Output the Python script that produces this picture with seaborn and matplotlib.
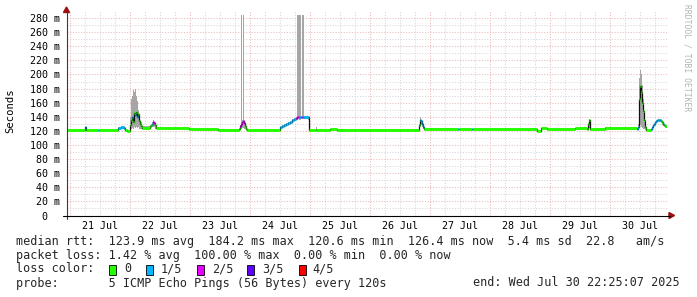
import matplotlib
matplotlib.use("Agg")
import matplotlib.pyplot as plt
import seaborn as sns
import pandas as pd
from matplotlib.lines import Line2D
from matplotlib.patches import Polygon, Rectangle

# ---------------- data (hours since 21 Jul 2025 00:00) ----------------
START_H = -1.5814   # Wed Jul 20 22:25:07
END_H = 238.4186    # Wed Jul 30 22:25:07

T_HOURS = [-1.6, 6.0, 6.4, 11.2, 11.6, 19.2, 20.4, 21.6, 22.0, 22.8,
           24.0, 24.4, 24.8, 25.2, 25.6, 26.0, 26.4, 26.8, 27.2, 27.6,
           28.0, 28.4, 28.8, 32.0, 32.4, 32.8, 33.2, 33.6, 34.0, 34.4,
           47.6, 59.2, 67.6, 68.0, 68.4, 68.8, 69.2, 69.6, 70.0, 70.4,
           70.8, 84.0, 84.8, 85.6, 86.4, 87.2, 88.0, 88.8, 89.6, 90.4,
           90.8, 91.2, 91.6, 92.0, 92.4, 92.8, 93.2, 93.6, 95.2, 95.6,
           98.4, 98.8, 104.0, 106.8, 139.6, 140.0, 140.4, 140.8, 141.2, 141.6,
           155.2, 155.6, 160.8, 161.2, 186.8, 188.4, 190.8, 202.0, 206.8, 207.2,
           207.6, 208.0, 214.0, 226.8, 227.2, 227.6, 228.0, 228.4, 228.8, 229.2,
           229.6, 230.0, 230.4, 232.4, 232.8, 233.2, 233.6, 234.0, 234.4, 234.8,
           235.2, 235.6, 236.0, 236.4, 236.8, 237.2, 237.6, 238.0]

MEDIAN_MS = [121.0, 125.0, 121.0, 121.0, 121.0, 124.5, 125.5, 124.5, 121.5, 120.5,
             128, 135, 140, 133, 145, 142, 147, 140, 144, 134,
             130, 127, 124, 127, 128, 130, 133, 131, 128, 123.8,
             122.7, 121.0, 123, 127, 130, 133, 134, 131, 127, 123,
             121, 125, 127, 129, 130, 131, 133, 136, 137, 138,
             139, 140, 139, 139, 140, 140, 140, 140, 139, 121,
             121, 121, 122, 121, 128, 135, 134, 130, 125, 123.3,
             122.7, 122.7, 122.7, 122.7, 120.5, 123.5, 122.7, 123.5, 122.7, 130,
             136, 122.7, 124.5, 123, 126, 165, 184, 175, 160, 148,
             135, 125, 120.6, 122, 125, 128, 130, 132, 134, 135,
             136, 135, 135, 134, 132, 130, 128, 126.4]

LOSS_IDX = [0, 1, 0, 1, 0, 1, 1, 1, 0, 0,
            0, 0, 1, 0, 0, 1, 0, 1, 0, 0,
            0, 0, 0, 0, 0, 1, 2, 2, 0, 0,
            0, 0, 0, 2, 2, 2, 2, 2, 0, 0,
            0, 1, 1, 1, 1, 1, 1, 1, 1, 2,
            2, 2, 1, 1, 1, 2, 1, 1, 1, 0,
            0, 0, 0, 0, 0, 1, 1, 1, 1, 0,
            1, 0, 1, 0, 0, 0, 0, 0, 0, 0,
            0, 0, 0, 1, 1, 0, 0, 0, 0, 0,
            0, 0, 0, 1, 1, 1, 1, 1, 1, 1,
            1, 1, 1, 0, 0, 1, 0, 0]

SMOKE_LO = [120.6, 121.0, 120.6, 120.6, 120.6, 121.5, 122.0, 121.5, 121.0, 120.0,
            122, 123, 124, 123, 125, 124, 126, 124, 125, 123,
            122, 122, 122, 123, 124, 125, 126, 125, 123, 123.2,
            122.2, 120.6, 121, 122, 123, 124, 124, 123, 122, 121,
            120.6, 123, 125, 127, 128, 129, 131, 133, 134, 135,
            136, 137, 136, 136, 137, 137, 137, 137, 136, 120.6,
            120.6, 120.6, 121.5, 120.6, 121, 126, 128, 126, 123, 122.6,
            122.2, 122.2, 122.2, 122.2, 120.0, 122.8, 122.2, 122.8, 122.2, 123,
            124, 122.2, 123.8, 122, 122, 125, 128, 126, 124, 123,
            122, 121, 120.2, 121, 123, 126, 128, 130, 132, 133,
            134, 133, 132, 131, 129, 127, 125, 124]

SMOKE_HI = [121.6, 126.0, 121.6, 121.6, 121.6, 126.0, 127.0, 126.0, 122.5, 121.5,
            140, 165, 170, 178, 175, 179, 170, 162, 150, 142,
            136, 132, 127, 128, 130, 133, 135, 133, 130, 124.4,
            123.2, 121.6, 124, 129, 284, 135, 284, 133, 129, 124,
            121.6, 126, 128, 130, 131, 132, 134, 137, 138, 139,
            284, 284, 284, 284, 141, 284, 284, 141, 140, 121.6,
            125, 121.6, 122.8, 121.6, 130, 139, 136, 132, 126, 124,
            123.2, 123.2, 123.2, 123.2, 121.5, 124.5, 123.2, 124.2, 123.2, 131,
            137, 123.2, 125.2, 124, 130, 195, 207, 200, 185, 165,
            148, 130, 121.5, 123, 126, 129, 131, 133, 135, 136,
            137, 137, 137, 136, 134, 132, 130, 128]

assert len(T_HOURS) == len(MEDIAN_MS) == len(LOSS_IDX) == len(SMOKE_LO) == len(SMOKE_HI)

LOSS_LABELS = ["0", "1/5", "2/5", "3/5", "4/5"]
LOSS_COLORS = ["#26ff00", "#00b8ff", "#e600ff", "#5e00ff", "#ff0000"]

DAY_LABELS = ["21 Jul", "22 Jul", "23 Jul", "24 Jul", "25 Jul",
              "26 Jul", "27 Jul", "28 Jul", "29 Jul", "30 Jul"]
Y_TICKS = list(range(0, 281, 20))

STATS_RTT = "median rtt:  123.9 ms avg  184.2 ms max  120.6 ms min  126.4 ms now  5.4 ms sd  22.8   am/s"
STATS_LOSS = "packet loss: 1.42 % avg  100.00 % max  0.00 % min  0.00 % now"
PROBE = "probe:       5 ICMP Echo Pings (56 Bytes) every 120s"
END_TXT = "end: Wed Jul 30 22:25:07 2025"

# ---------------- figure ----------------
sns.set_style("white")
plt.rcParams["font.family"] = ["DejaVu Sans Mono", "DejaVu Sans"]

W, H = 697, 297
fig = plt.figure(figsize=(W / 100, H / 100), dpi=100)
fig.patch.set_facecolor("white")


def fx(px):
    return px / W


def fy(py):
    return 1 - py / H


X0, X1 = 66.5, 666.5
Y0, Y1 = 215.5, 11.0
YMAX = 290
ax = fig.add_axes([fx(X0), fy(Y0), (X1 - X0) / W, (Y0 - Y1) / H])
ax.set_xlim(START_H, END_H)
ax.set_ylim(0, YMAX)
for s in ax.spines.values():
    s.set_visible(False)
ax.set_facecolor("white")

# grid
dot = (0, (1, 1.6))
MAJOR_C, MINOR_C = "#e9b8b8", "#d6d6d6"
for h in range(0, 240, 6):
    major = h % 24 == 0
    ax.axvline(h, color=MAJOR_C if major else MINOR_C, lw=0.75, ls=dot, zorder=0)
for v in range(10, YMAX, 10):
    major = v % 20 == 0
    ax.axhline(v, color=MAJOR_C if major else MINOR_C, lw=0.75, ls=dot, zorder=0)

# extend step data to the end of the window
t_ext = T_HOURS + [END_H]
med_ext = MEDIAN_MS + [MEDIAN_MS[-1]]
lo_ext = SMOKE_LO + [SMOKE_LO[-1]]
hi_ext = SMOKE_HI + [SMOKE_HI[-1]]

# smoke
ax.fill_between(t_ext, lo_ext, hi_ext, step="post", color="#a6a6a6", lw=0, zorder=2)

# median (black step), then loss-coloured segments
df = pd.DataFrame({"t": t_ext, "median": med_ext})
sns.lineplot(data=df, x="t", y="median", drawstyle="steps-post", estimator=None,
             sort=False, color="#111111", linewidth=0.9, ax=ax, legend=False, zorder=3)
ax.hlines(MEDIAN_MS, T_HOURS, t_ext[1:], colors=[LOSS_COLORS[i] for i in LOSS_IDX],
          lw=2.1, zorder=4, capstyle="butt")

# ticks
ax.set_xticks([12 + 24 * i for i in range(len(DAY_LABELS))])
ax.set_xticklabels(DAY_LABELS)
ax.set_yticks(Y_TICKS)
ax.set_yticklabels([f"{v:3d} m" if v else "  0  " for v in Y_TICKS])
ax.tick_params(axis="x", length=0, pad=4, labelsize=7.2, labelcolor="#000000")
ax.tick_params(axis="y", length=2, width=0.7, color="#555555", pad=3,
               labelsize=7.2, labelcolor="#000000")
ax.set_xlabel("")
ax.set_ylabel("")

# axis lines and arrows
fig.add_artist(Line2D([fx(X0), fx(X0)], [fy(218.5), fy(11)], color="#3a3a3a", lw=0.8))
fig.add_artist(Line2D([fx(63), fx(670)], [fy(Y0), fy(Y0)], color="#000000", lw=0.8))
fig.add_artist(Polygon([(fx(63.5), fy(12.5)), (fx(69.5), fy(12.5)), (fx(66.5), fy(7))],
                       closed=True, color="#9a1010", transform=fig.transFigure))
fig.add_artist(Polygon([(fx(669), fy(212.5)), (fx(669), fy(218.5)), (fx(674.5), fy(215.5))],
                       closed=True, color="#9a1010", transform=fig.transFigure))

# labels
fig.text(fx(10), fy(111), "Seconds", rotation=90, ha="center", va="center",
         fontsize=7.6, color="#000000")
fig.text(fx(687), fy(4), "RRDTOOL / TOBI OETIKER", rotation=270, ha="center", va="top",
         fontsize=5.8, color="#b4b4b4")

# legend / stats
FS = 8.5
fig.text(fx(16), fy(241), STATS_RTT, ha="left", va="center", fontsize=FS)
fig.text(fx(16), fy(255), STATS_LOSS, ha="left", va="center", fontsize=FS)
fig.text(fx(16), fy(269), "loss color:", ha="left", va="center", fontsize=FS)
box_x = [108.7, 146.0, 197.3, 247.3, 298.7]
lab_x = [124.0, 160.7, 212.0, 262.0, 312.7]
for bx, lx, col, lab in zip(box_x, lab_x, LOSS_COLORS, LOSS_LABELS):
    fig.add_artist(Rectangle((fx(bx), fy(274.5)), 7 / W, 10 / H, facecolor=col,
                             edgecolor="#000000", lw=0.6, transform=fig.transFigure))
    fig.text(fx(lx), fy(269), lab, ha="left", va="center", fontsize=FS)
fig.text(fx(16), fy(283), PROBE, ha="left", va="center", fontsize=FS)
fig.text(fx(680), fy(283), END_TXT, ha="right", va="center", fontsize=FS)

fig.savefig("out.png", dpi=100, facecolor="white")
